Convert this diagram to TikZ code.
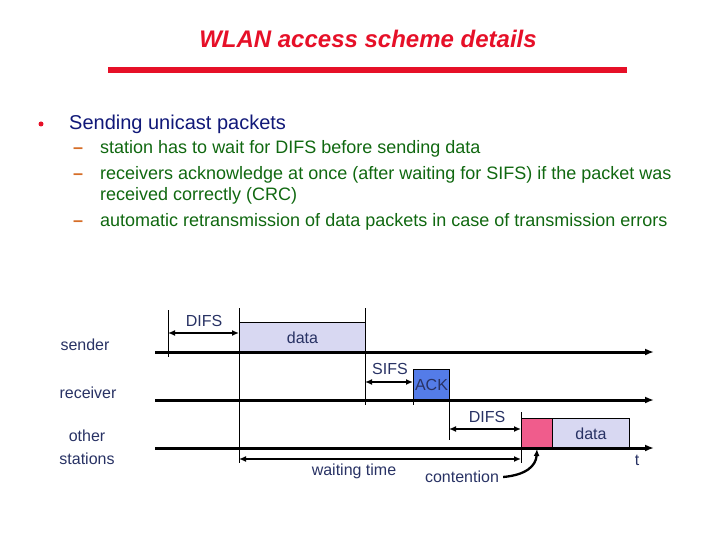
\documentclass[tikz,border=0pt]{standalone}
\usepackage{fontspec}
\setmainfont{Liberation Sans}
\usetikzlibrary{arrows.meta}
\definecolor{titlered}{RGB}{230,16,40}
\definecolor{navy}{RGB}{16,24,120}
\definecolor{subgreen}{RGB}{16,104,16}
\definecolor{dashorange}{RGB}{214,110,40}
\definecolor{diagtext}{RGB}{40,50,100}
\definecolor{lavender}{RGB}{216,216,242}
\definecolor{ackblue}{RGB}{84,124,232}
\definecolor{pink}{RGB}{240,92,140}
\begin{document}
\begin{tikzpicture}[x=1pt,y=-1pt,
  timeline/.style={line width=3pt,-{Latex[length=9pt,width=7pt]}},
  dim/.style={line width=2.3pt,{Latex[length=7pt,width=6pt]}-{Latex[length=7pt,width=6pt]}},
  tick/.style={line width=1pt},
  lbl/.style={text=diagtext,font=\fontsize{16}{19}\selectfont,inner sep=0pt},
  frame/.style={draw,line width=1pt,inner sep=0pt,anchor=north west,text=diagtext,font=\fontsize{16}{19}\selectfont},
  subitem/.style={anchor=base west,inner sep=0pt,text=subgreen,font=\fontsize{18}{21}\selectfont},
  subdash/.style={anchor=base west,inner sep=0pt,text=dashorange,font=\fontsize{18}{21}\selectfont\bfseries}
]
\useasboundingbox (0,0) rectangle (720,540);
% title
\node[text=titlered,font=\fontsize{24}{28}\selectfont\bfseries\itshape,inner sep=0pt] (title) at (368,39) {WLAN access scheme details};
\fill[titlered] (108,67) rectangle (627,73);
% bullets
\node[fill=titlered,circle,inner sep=0pt,minimum size=5pt] (dot) at (41,124) {};
\node[anchor=base west,inner sep=0pt,text=navy,font=\fontsize{20}{24}\selectfont] (b1) at (69,130) {Sending unicast packets};
\node[subdash] (d1) at (73,154) {--};
\node[subitem] (s1t) at (100,154) {station has to wait for DIFS before sending data};
\node[subdash] (d2) at (73,180) {--};
\node[subitem] (s2t) at (100,180) {receivers acknowledge at once (after waiting for SIFS) if the packet was};
\node[subitem] (s2u) at (100,201) {received correctly (CRC)};
\node[subdash] (d3) at (73,226) {--};
\node[subitem] (s3t) at (100,226) {automatic retransmission of data packets in case of transmission errors};
% row labels
\node[lbl] (sender) at (85,345) {sender};
\node[lbl] (receiver) at (88,393) {receiver};
\node[lbl,align=center,font=\fontsize{16}{23}\selectfont] (other) at (87,447) {other\\stations};
% boxes
\node[frame,fill=lavender,minimum width=126pt,minimum height=30pt] (data1) at (239,322) {data};
\node[frame,fill=ackblue,minimum width=36pt,minimum height=31pt] (ack) at (413,369) {ACK};
\node[frame,fill=pink,minimum width=31pt,minimum height=30pt] (cont) at (521,418) {};
\node[frame,fill=lavender,minimum width=77pt,minimum height=30pt] (data2) at (552,418) {data};
% timelines
\coordinate (sa) at (155,352); \coordinate (sb) at (654,352);
\coordinate (ra) at (155,400); \coordinate (rb) at (654,400);
\coordinate (oa) at (155,448); \coordinate (ob) at (654,448);
\draw[timeline] (sa) -- (sb);
\draw[timeline] (ra) -- (rb);
\draw[timeline] (oa) -- (ob);
\node[lbl] (t) at (637,460) {t};
% ticks
\coordinate (k1a) at (168,310); \coordinate (k1b) at (168,357);
\coordinate (k2a) at (239,308); \coordinate (k2b) at (239,463);
\coordinate (k3a) at (365,308); \coordinate (k3b) at (365,405);
\coordinate (k4a) at (413,369); \coordinate (k4b) at (413,405);
\coordinate (k5a) at (449,369); \coordinate (k5b) at (449,440);
\coordinate (k6a) at (521,412); \coordinate (k6b) at (521,463);
\foreach \k in {1,...,6} {\draw[tick] (k\k a) -- (k\k b);}
% dimension arrows
\coordinate (da) at (168,333); \coordinate (db) at (239,333);
\draw[dim] (da) -- (db);
\node[lbl] (difs1) at (204,321) {DIFS};
\coordinate (sfa) at (365,382); \coordinate (sfb) at (413,382);
\draw[dim] (sfa) -- (sfb);
\node[lbl] (sifs) at (390,369) {SIFS};
\coordinate (dfa) at (449,429); \coordinate (dfb) at (521,429);
\draw[dim] (dfa) -- (dfb);
\node[lbl] (difs2) at (487,417) {DIFS};
\coordinate (wa) at (239,459); \coordinate (wb) at (521,459);
\draw[dim] (wa) -- (wb);
\node[lbl] (wait) at (354,471) {waiting time};
\node[lbl] (contention) at (462,477) {contention};
\draw[line width=2.3pt,-{Latex[length=7pt,width=6pt]}] (contention.east) ++(4,0) .. controls (526,475) and (536,466) .. (537,449);
\end{tikzpicture}
\end{document}
